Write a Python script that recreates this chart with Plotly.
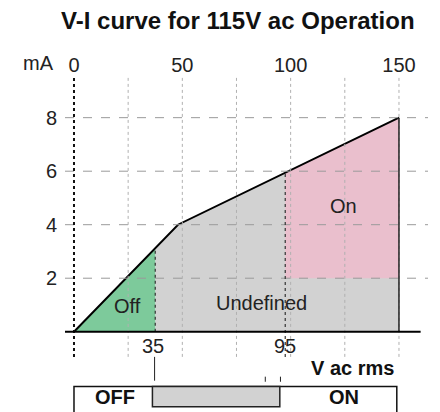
import numpy as np
import plotly.graph_objects as go

# ---- data ----
curve_v = [0, 48, 150]          # V ac rms
curve_ma = [0, 4, 8]            # mA
off_max_v = 37.5                # end of guaranteed OFF region
on_min_v = 97.5                 # start of guaranteed ON region
on_min_ma = 2                   # minimum ON current
region_labels = ["Off", "Undefined", "On"]
threshold_labels = ["35", "95"]
x_ticks = [0, 50, 100, 150]
y_ticks = [2, 4, 6, 8]
grid_v = [25, 50, 75, 100, 125, 150]
state_labels = ["OFF", "ON"]

FONT = "Liberation Sans, Arial, sans-serif"
GREEN = "#7dca9b"
PINK = "#eabfcd"
GRAY = "#d2d2d2"

def f(x):
    return float(np.interp(x, curve_v, curve_ma))

fig = go.Figure()

# gray (undefined) region
gx = [off_max_v, off_max_v] + [v for v in curve_v if v > off_max_v] + [curve_v[-1]]
gy = [0, f(off_max_v)] + [m for v, m in zip(curve_v, curve_ma) if v > off_max_v] + [0]
fig.add_trace(go.Scatter(x=gx, y=gy, fill="toself", fillcolor=GRAY, mode="lines",
                         line=dict(width=0), hoverinfo="skip", showlegend=False))
# green (off) region
ox = [0, off_max_v, off_max_v]
oy = [0, f(off_max_v), 0]
fig.add_trace(go.Scatter(x=ox, y=oy, fill="toself", fillcolor=GREEN, mode="lines",
                         line=dict(width=0), hoverinfo="skip", showlegend=False))
# pink (on) region
px = [on_min_v, on_min_v] + [v for v in curve_v if v > on_min_v] + [curve_v[-1]]
py = [on_min_ma, f(on_min_v)] + [m for v, m in zip(curve_v, curve_ma) if v > on_min_v] + [on_min_ma]
fig.add_trace(go.Scatter(x=px, y=py, fill="toself", fillcolor=PINK, mode="lines",
                         line=dict(width=0), hoverinfo="skip", showlegend=False))

XMIN, XMAX = -4.15, 163.4
YMIN, YMAX = -3.0, 9.52
YBOT = -0.94

shapes = []
# horizontal grid
for yv in y_ticks:
    shapes.append(dict(type="line", xref="x", yref="y", x0=XMIN, x1=XMAX, y0=yv, y1=yv,
                       line=dict(color="#9a9a9a", width=1, dash="dash")))
# vertical grid
for xv in grid_v:
    shapes.append(dict(type="line", xref="x", yref="y", x0=xv, x1=xv, y0=YBOT, y1=YMAX,
                       line=dict(color="#b0b0b0", width=1, dash="dot")))
# y axis (dotted black)
shapes.append(dict(type="line", xref="x", yref="y", x0=0, x1=0, y0=YBOT, y1=YMAX,
                   line=dict(color="#111", width=2, dash="dot")))
# boundary dotted lines
shapes.append(dict(type="line", xref="x", yref="y", x0=off_max_v, x1=off_max_v, y0=0, y1=f(off_max_v),
                   line=dict(color="#333", width=1.2, dash="dot")))
shapes.append(dict(type="line", xref="x", yref="y", x0=on_min_v, x1=on_min_v, y0=YBOT, y1=f(on_min_v),
                   line=dict(color="#333", width=1.2, dash="dot")))
# right edge
shapes.append(dict(type="line", xref="x", yref="y", x0=curve_v[-1], x1=curve_v[-1], y0=0, y1=curve_ma[-1],
                   line=dict(color="#222", width=1.5)))
# x axis line
shapes.append(dict(type="line", xref="x", yref="y", x0=XMIN, x1=160, y0=0, y1=0,
                   line=dict(color="#000", width=2)))
# tick under 35
shapes.append(dict(type="line", xref="x", yref="y", x0=37.2, x1=37.2, y0=YBOT, y1=-1.83,
                   line=dict(color="#222", width=1)))
# small ticks near 95
for xv in [88.3, 95.3]:
    shapes.append(dict(type="line", xref="x", yref="y", x0=xv, x1=xv, y0=-1.68, y1=-1.87,
                       line=dict(color="#222", width=1)))
# outer state box
shapes.append(dict(type="rect", xref="x", yref="y", x0=0, x1=149, y0=-2.05, y1=-3.2,
                   line=dict(color="#111", width=1.5), fillcolor="rgba(0,0,0,0)"))
# gray undefined bar
shapes.append(dict(type="rect", xref="x", yref="y", x0=36.2, x1=95.0, y0=-2.05, y1=-2.8,
                   line=dict(color="#222", width=1.5), fillcolor=GRAY))
fig.update_layout(shapes=shapes)

# curve
fig.add_trace(go.Scatter(x=curve_v, y=curve_ma, mode="lines", line=dict(color="#000", width=2),
                         hoverinfo="skip", showlegend=False))

ann = []
ann.append(dict(x=24.5, y=0.95, text=region_labels[0]))
ann.append(dict(x=86.5, y=1.08, text=region_labels[1]))
ann.append(dict(x=124.6, y=4.7, text=region_labels[2]))
ann.append(dict(x=36.5, y=-0.55, text=threshold_labels[0]))
ann.append(dict(x=97.2, y=-0.55, text=threshold_labels[1]))
for a in ann:
    a.update(xref="x", yref="y", showarrow=False, font=dict(family=FONT, size=20, color="#222"))
ann.append(dict(x=128.6, y=-1.35, xref="x", yref="y", text="<b>V ac rms</b>", showarrow=False,
                font=dict(family=FONT, size=20, color="#111")))
ann.append(dict(x=19, y=-2.45, xref="x", yref="y", text="<b>" + state_labels[0] + "</b>", showarrow=False,
                font=dict(family=FONT, size=20, color="#111")))
ann.append(dict(x=124.4, y=-2.45, xref="x", yref="y", text="<b>" + state_labels[1] + "</b>", showarrow=False,
                font=dict(family=FONT, size=20, color="#111")))
ann.append(dict(x=-0.074, y=1.042, xref="paper", yref="paper", xanchor="center", yanchor="middle",
                text="mA", showarrow=False, font=dict(family=FONT, size=20, color="#222")))
fig.update_layout(annotations=ann)

# page body adds an 8px margin, so the figure is 8px smaller and shifted
fig.update_layout(
    width=432, height=404,
    margin=dict(l=57, r=12, t=69, b=0),
    paper_bgcolor="white", plot_bgcolor="white",
    title=dict(text="<b>V-I curve for 115V ac Operation</b>", x=0.532, xanchor="center",
               y=0.968, yanchor="middle", font=dict(family=FONT, size=24, color="#111")),
    xaxis=dict(range=[XMIN, XMAX], side="top", tickvals=x_ticks, showgrid=False, zeroline=False,
               showline=False, ticks="", tickfont=dict(family=FONT, size=20, color="#222"),
               fixedrange=True),
    yaxis=dict(range=[YMIN, YMAX], tickvals=y_ticks, showgrid=False, zeroline=False, showline=False,
               ticks="outside", ticklen=3, tickcolor="rgba(0,0,0,0)",
               tickfont=dict(family=FONT, size=20, color="#222"), fixedrange=True),
    showlegend=False,
)

fig.write_html("out.html")
